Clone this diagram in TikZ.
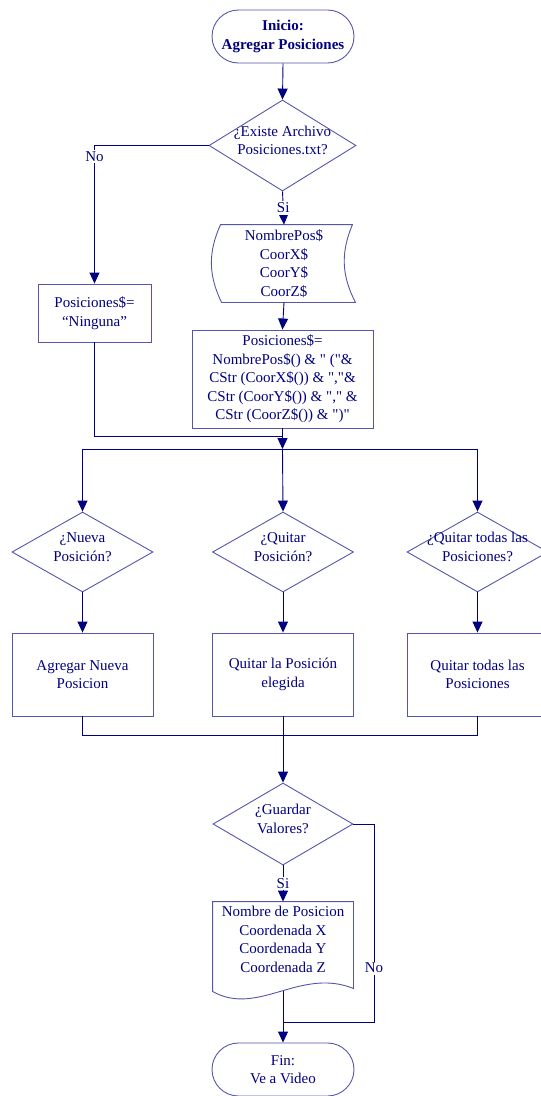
\documentclass[tikz,border=0pt]{standalone}
\usepackage{fontspec}
\setmainfont{Liberation Serif}
\usetikzlibrary{shapes.geometric,shapes.misc,arrows.meta}

\definecolor{azul}{RGB}{0,0,128}
\definecolor{borde}{RGB}{85,85,170}
\newcommand{\qtext}[1]{\smash{\makebox[0pt]{\begin{tabular}{@{}c@{}}#1\end{tabular}}}}
\newcommand{\qd}{\textquotedbl}

\begin{document}
\begin{tikzpicture}[x=1pt,y=1pt,line width=0.9pt,
	every node/.style={font=\fontsize{15}{18.5}\selectfont,text=azul},
	terminal/.style={rounded rectangle,draw=borde,minimum width=142pt,minimum height=53pt,align=center,inner sep=0pt},
	proceso/.style={rectangle,draw=borde,align=center,inner sep=0pt},
	hoja/.style={rectangle,align=center,inner sep=0pt},
	decision/.style={diamond,draw=borde,inner sep=0pt,minimum width=141pt,minimum height=80pt},
	flecha/.style={draw=azul,-{Triangle[width=10pt,length=11pt]}},
	linea/.style={draw=azul},
	etiqueta/.style={fill=white,inner sep=1.5pt}]
			\useasboundingbox (0,0) rectangle (541,-1096);
			\draw (283,-36.5) node [terminal,font=\fontsize{15}{18.5}\selectfont\bfseries] (inicio) {Inicio:\\Agregar Posiciones};
			\draw (282.5,-145.5) node [decision,minimum width=147pt,minimum height=91pt] (q1) {\qtext{¿Existe Archivo\\Posiciones.txt?}};
			\draw (284,-263.5) node [hoja,minimum width=142pt,minimum height=77pt] (dat) {NombrePos\$\\CoorX\$\\CoorY\$\\CoorZ\$};
			\draw[borde] ([xshift=8pt]dat.north west) -- ([xshift=-3pt]dat.north east) to[bend right=25] (dat.south east)
				-- ([xshift=9pt]dat.south west) to[bend left=25] ([xshift=8pt]dat.north west) -- cycle;
			\draw (94.5,-313) node [proceso,minimum width=113pt,minimum height=58pt] (pos1) {Posiciones\$=\\“Ninguna”};
			\draw (282.5,-379) node [proceso,minimum width=181pt,minimum height=98pt] (pos2) {Posiciones\$=\\NombrePos\$() \& \qd{} (\qd\&\\CStr (CoorX\$()) \& \qd,\qd\&\\CStr (CoorY\$()) \& \qd,\qd{} \&\\CStr (CoorZ\$()) \& \qd)\qd};
			\coordinate (junta) at (282.5,-436);
			\coordinate (repA) at (82.5,-449);
			\coordinate (repB) at (282.5,-449);
			\coordinate (repC) at (477.5,-449);
			\draw (82.5,-552) node [decision] (qa) {\qtext{¿Nueva\\Posición?}};
			\draw (283,-552) node [decision] (qb) {\qtext{¿Quitar\\Posición?}};
			\draw (477.5,-552) node [decision] (qc) {\qtext{¿Quitar todas las\\Posiciones?}};
			\draw (82.5,-674.5) node [proceso,minimum width=141pt,minimum height=83pt] (ba) {Agregar Nueva\\Posicion};
			\draw (283,-674.5) node [proceso,minimum width=141pt,minimum height=83pt] (bb) {Quitar la Posición\\elegida};
			\draw (477.5,-674.5) node [proceso,minimum width=141pt,minimum height=83pt] (bc) {Quitar todas las\\Posiciones};
			\draw (283,-824) node [decision,minimum width=140pt,minimum height=82pt] (q4) {\qtext{¿Guardar\\Valores?}};
			\draw (283,-939.5) node [hoja,minimum width=140pt,minimum height=75pt] (doc) {Nombre de Posicion\\Coordenada X\\Coordenada Y\\Coordenada Z};
			\draw[borde] (doc.north west) -- (doc.north east) -- ([yshift=-11pt]doc.south east)
				.. controls (300,-967) and (258,-1017) .. ([yshift=-14pt]doc.south west) -- cycle;
			\coordinate (docfin) at ([yshift=-14pt]doc.south);
			\coordinate (juntaB) at (283,-1022);
			\coordinate (noB) at (374,-1022);
			\draw (283,-1069.5) node [terminal] (fin) {Fin:\\Ve a Video};
			\path[every edge/.style={flecha}]
				(inicio.south) edge (q1.north)
				(q1.south) edge node [etiqueta] {Si} (dat.north)
				(dat.south) edge (pos2.north)
				(pos2.south) edge (repB)
				(repA) edge (qa.north)
				(repB) edge (qb.north)
				(repC) edge (qc.north)
				(qa.south) edge (ba.north)
				(qb.south) edge (bb.north)
				(qc.south) edge (bc.north)
				(bb.south) edge (q4.north)
				(q4.south) edge node [etiqueta] {Si} (doc.north)
				(docfin) edge (fin.north);
			\draw[flecha] (q1.west) -| node [etiqueta,pos=0.54] {No} (pos1.north);
			\draw[linea] (pos1.south) |- (junta);
			\draw[linea] (repA) -- (repC);
			\draw[linea] (ba.south) -- ++(0,-19) -| (bc.south);
			\draw[linea] (q4.east) -| node [etiqueta,pos=0.864] {No} (noB) -- (juntaB);
		\end{tikzpicture}
\end{document}
